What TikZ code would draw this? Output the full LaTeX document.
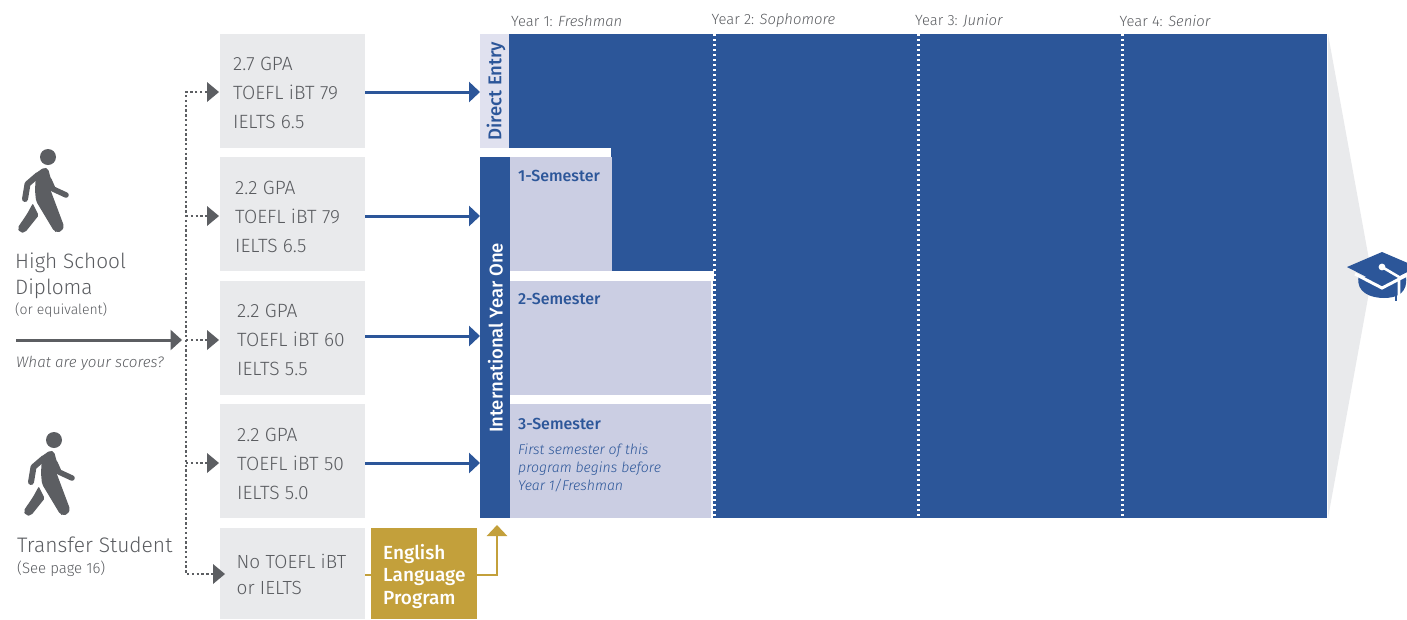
\documentclass[tikz,border=0pt]{standalone}
\usepackage{fontspec}
\setmainfont{Fira Sans Light}[BoldFont={Fira Sans Medium},ItalicFont={Fira Sans Light Italic},BoldItalicFont={Fira Sans Medium Italic}]
\usetikzlibrary{arrows.meta}
\definecolor{ngray}{HTML}{E9EAEC}
\definecolor{dgray}{HTML}{5C5E62}
\definecolor{tgray}{HTML}{5A5C60}
\definecolor{nblue}{HTML}{2C5699}
\definecolor{lav}{HTML}{CBCEE3}
\definecolor{lav2}{HTML}{E0E1EF}
\definecolor{gold}{HTML}{C3A03B}
\tikzset{
 x=1pt,y=-1pt,
 gbox/.style={fill=ngray,anchor=north west,inner sep=0pt,outer sep=0pt,minimum width=145pt},
 scoretxt/.style={anchor=west,inner sep=0pt,align=left,text=tgray,font=\fontsize{19.2}{29.3}\selectfont},
 yeartxt/.style={anchor=west,inner sep=0pt,text=tgray,font=\fontsize{14.8}{17}\selectfont},
 semtxt/.style={anchor=west,inner sep=0pt,text=nblue,font=\fontsize{16}{18}\selectfont\bfseries},
 dots/.style={draw=dgray,line width=2.3pt,dash pattern=on 2.3pt off 2.5pt},
 gtip/.style={fill=dgray,draw=none},
 bluearrow/.style={draw=nblue,line width=3pt,-{Triangle[length=11pt,width=20pt,fill=nblue]}},
 goldline/.style={draw=gold,line width=2.8pt},
 sep/.style={draw=white,line width=2.4pt,dash pattern=on 2.4pt off 2.6pt},
 limb/.style={draw=dgray,line cap=round,line join=round,line width=#1},
}
\newcommand{\walker}[2]{%
 \begin{scope}[shift={(#1,#2)}]
  \fill[dgray] (48,157) circle (8);
  \draw[limb=6] (38,175) -- (27.5,184) -- (25,199);
  \draw[limb=5.5] (49,180) -- (53,189) -- (66,195);
  % back leg
  \fill[dgray,rounded corners=2pt] (33,203) -- (39,215) -- (25,232.5) -- (20,232.5) -- (17.5,228) -- (27,214) -- cycle;
  \draw[white,line width=1.4pt] (31,198) -- (39,214);
  % torso and front leg
  \fill[dgray,rounded corners=2pt] (36,173) -- (44,167.5) -- (48,168.5) -- (51.5,181) -- (50.5,190) -- (64,226) -- (62,231) -- (57,232.5) -- (54,231) -- (36,201) -- (35,190) -- cycle;
 \end{scope}}
\begin{document}
\begin{tikzpicture}
\useasboundingbox (0,0) rectangle (1407,619);
\clip (0,0) rectangle (1407,619);
% gray funnel
\fill[ngray] (1328,34) -- (1372,276) -- (1328,518) -- cycle;
% blue study area
\fill[nblue] (509,34) rectangle (1327,518);
% entry tags
\node[fill=lav2,anchor=north west,inner sep=0pt,outer sep=0pt,minimum width=29pt,minimum height=114pt] (direct) at (480,34) {};
\node[fill=nblue,anchor=north west,inner sep=0pt,outer sep=0pt,minimum width=30pt,minimum height=361pt] (iyo) at (480,157) {};
\fill[white] (480,148) rectangle (611,157);
\fill[white] (510,271) rectangle (714,281);
\fill[white] (510,395) rectangle (713,404);
\fill[white] (711,281) rectangle (713,518);
\fill[lav] (510,157) rectangle (612,271);
\fill[lav] (510,281) rectangle (711,395);
\fill[lav] (510,404) rectangle (711,518);
\node[rotate=90,inner sep=0pt,text=nblue,font=\fontsize{18.5}{20}\selectfont\bfseries] at (496,91) {Direct Entry};
\node[rotate=90,inner sep=0pt,text=white,font=\fontsize{18.5}{20}\selectfont\bfseries] at (495.5,338) {International Year One};
% year separators
\draw[sep] (714.5,34) -- (714.5,518);
\foreach \x in {918.5,1122.5} \draw[sep] (\x,34) -- (\x,518);
% year labels
\node[yeartxt] at (511,21) {Year 1: \textit{Freshman}};
\node[yeartxt] at (711.5,21) {Year 2: \textit{Sophomore}};
\node[yeartxt] at (915,21) {Year 3: \textit{Junior}};
\node[yeartxt] at (1119.5,21) {Year 4: \textit{Senior}};
% semester labels
\node[semtxt] at (518,175.5) {1-Semester};
\node[semtxt] at (518,298.5) {2-Semester};
\node[semtxt] at (518,423.5) {3-Semester};
\node[anchor=north west,inner sep=0pt,align=left,text=nblue,font=\fontsize{14.1}{18}\selectfont\itshape] at (518,444) {First semester of this\\program begins before\\Year 1/Freshman};
% score boxes
\node[gbox,minimum height=114pt] (b1) at (220,34) {};
\node[gbox,minimum height=114pt] (b2) at (220,157) {};
\node[gbox,minimum height=114pt] (b3) at (220,281) {};
\node[gbox,minimum height=114pt] (b4) at (220,404) {};
\node[gbox,minimum height=91pt] (b5) at (220,528) {};
\node[scoretxt] at (233,93) {2.7 GPA\\TOEFL iBT 79\\IELTS 6.5};
\node[scoretxt] at (235,217) {2.2 GPA\\TOEFL iBT 79\\IELTS 6.5};
\node[scoretxt] at (237,340) {2.2 GPA\\TOEFL iBT 60\\IELTS 5.5};
\node[scoretxt] at (237,464) {2.2 GPA\\TOEFL iBT 50\\IELTS 5.0};
\node[scoretxt,font=\fontsize{19}{26}\selectfont] at (236.5,574.5) {No TOEFL iBT\\or IELTS};
% blue arrows
\coordinate (a1) at (480,92);
\coordinate (a2) at (480,216);
\coordinate (a3) at (480,336);
\coordinate (a4) at (480,463);
\draw[bluearrow] (b1.east |- a1) -- (a1);
\draw[bluearrow] (b2.east |- a2) -- (a2);
\draw[bluearrow] (b3.east |- a3) -- (a3);
\draw[bluearrow] (b4.east |- a4) -- (a4);
% english language program
\node[fill=gold,anchor=north west,inner sep=0pt,outer sep=0pt,minimum width=106pt,minimum height=91pt] (elp) at (371,528) {};
\node[anchor=west,inner sep=0pt,align=left,text=white,font=\fontsize{19}{22.5}\selectfont\bfseries] at (383,576) {English\\Language\\Program};
\coordinate (up) at (497,525);
\coordinate (lv) at (497,575);
\draw[goldline] (b5.east |- lv) -- (elp.west |- lv);
\draw[goldline,-{Triangle[length=11pt,width=20pt,fill=gold]}] (elp.east |- lv) -- (lv) -- (up);
% dotted tree
\coordinate (t1) at (186,92);
\coordinate (t2) at (186,216);
\coordinate (t3) at (186,340);
\coordinate (t4) at (186,463);
\coordinate (t5) at (186,574);
\coordinate (h1) at (207,92);
\coordinate (h2) at (207,216);
\coordinate (h3) at (207,340);
\coordinate (h4) at (207,463);
\coordinate (h5) at (213,574);
\draw[dots] (h1) -- (t1) -- (t5) -- (h5);
\draw[dots] (t2) -- (h2);
\draw[dots] (t3) -- (h3);
\draw[dots] (t4) -- (h4);
\foreach \n in {1,...,5} \fill[gtip] (h\n) ++(0,-10) -- ++(12,10) -- ++(-12,10) -- cycle;
% scores arrow
\coordinate (s0) at (16,340);
\draw[draw=dgray,line width=3pt,-{Triangle[length=11.5pt,width=20pt,fill=dgray]}] (s0) -- (182,340);
% walkers
\walker{0}{0}
\walker{6}{283}
% left text
\node[anchor=north west,inner sep=0pt,align=left,text=tgray,font=\fontsize{20.8}{26}\selectfont] at (15,252.5) {High School\\Diploma};
\node[anchor=west,inner sep=0pt,text=tgray,font=\fontsize{14}{16}\selectfont] at (15,310.5) {(or equivalent)};
\node[anchor=west,inner sep=0pt,text=tgray,font=\fontsize{15.2}{16}\selectfont\itshape] at (16,363) {What are your scores?};
\node[anchor=west,inner sep=0pt,text=tgray,font=\fontsize{21}{26}\selectfont] at (17,545) {Transfer Student};
\node[anchor=west,inner sep=0pt,text=tgray,font=\fontsize{15}{16}\selectfont] at (17,569) {(See page 16)};
% graduation cap
\fill[nblue] (1358.5,277) .. controls (1356,292) and (1370,298) .. (1384,298) .. controls (1398,298) and (1408,292) .. (1406,277) -- cycle;
\draw[white,line width=3pt] (1355,274) -- (1382,288) -- (1409,274);
\fill[nblue] (1347,267) -- (1382,252) -- (1417,267) -- (1382,285) -- cycle;
\draw[white,line width=2.6pt,line join=round] (1382,267) -- (1399,277) -- (1399,303);
\fill[white] (1382,267) circle (3.4);
\draw[nblue,line width=1.6pt] (1396,284) -- (1396,301);
\end{tikzpicture}
\end{document}
